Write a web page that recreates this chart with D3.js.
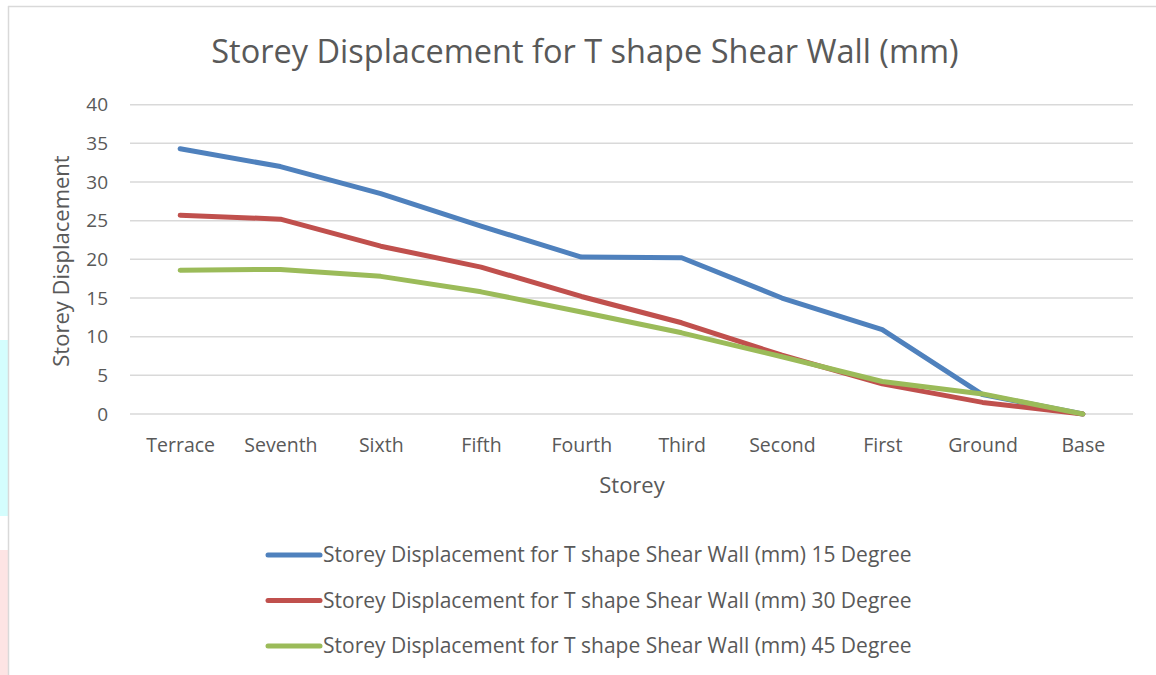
<!DOCTYPE html>
<html>
<head>
<meta charset="utf-8">
<script src="https://cdn.jsdelivr.net/npm/d3@7"></script>
<style>
  body { margin: 0; background: #fff; }
  text { font-family: "Open Sans", "Noto Sans", sans-serif; fill: #595959; }
</style>
</head>
<body>
<svg id="chart" width="1156" height="675"></svg>
<script>
// data
var storeys = ["Terrace", "Seventh", "Sixth", "Fifth", "Fourth", "Third", "Second", "First", "Ground", "Base"];
var deg15 = [34.3, 32.0, 28.5, 24.3, 20.3, 20.2, 15.0, 10.9, 2.5, 0];
var deg30 = [25.7, 25.2, 21.7, 19.0, 15.2, 11.8, 7.6, 3.9, 1.5, 0];
var deg45 = [18.6, 18.7, 17.8, 15.8, 13.2, 10.5, 7.4, 4.2, 2.6, 0];
var yTicks = [0, 5, 10, 15, 20, 25, 30, 35, 40];
var seriesNames = [
  "Storey Displacement for T shape Shear Wall (mm) 15 Degree",
  "Storey Displacement for T shape Shear Wall (mm) 30 Degree",
  "Storey Displacement for T shape Shear Wall (mm) 45 Degree"
];
var colors = ["#4f81bd", "#c0504d", "#9bbb59"];

var series = [deg15, deg30, deg45];

var svg = d3.select("#chart");

// page edge decorations
svg.append("rect").attr("x", 0).attr("y", 340).attr("width", 8).attr("height", 176).attr("fill", "#d4fdfd");
svg.append("rect").attr("x", 0).attr("y", 550).attr("width", 8).attr("height", 125).attr("fill", "#fde4e4");
svg.append("line").attr("x1", 8).attr("x2", 1156).attr("y1", 6.5).attr("y2", 6.5).attr("stroke", "#d9d9d9").attr("stroke-width", 1.5);
svg.append("line").attr("x1", 8.5).attr("x2", 8.5).attr("y1", 6).attr("y2", 675).attr("stroke", "#d9d9d9").attr("stroke-width", 1.5);

var plotLeft = 130, plotRight = 1133, plotTop = 104.7, plotBottom = 414;

var x = d3.scalePoint().domain(storeys).range([plotLeft, plotRight]).padding(0.5);
var y = d3.scaleLinear().domain([0, 40]).range([plotBottom, plotTop]);

// gridlines
svg.append("g")
  .selectAll("line")
  .data(yTicks)
  .enter().append("line")
  .attr("x1", plotLeft).attr("x2", plotRight)
  .attr("y1", function (d) { return y(d); })
  .attr("y2", function (d) { return y(d); })
  .attr("stroke", "#d9d9d9")
  .attr("stroke-width", 1.5);

// y axis
var yAxis = svg.append("g")
  .attr("transform", "translate(" + (plotLeft - 14) + ",0)")
  .call(d3.axisLeft(y).tickValues(yTicks).tickSize(0).tickPadding(8));
yAxis.select(".domain").remove();
yAxis.selectAll("text").style("font-size", "19px").attr("fill", "#595959")
  .style("font-family", "'Open Sans', sans-serif");

// x axis
var xAxis = svg.append("g")
  .attr("transform", "translate(0," + plotBottom + ")")
  .call(d3.axisBottom(x).tickSize(0).tickPadding(24));
xAxis.select(".domain").remove();
xAxis.selectAll("text").style("font-size", "19.5px").attr("fill", "#595959")
  .style("font-family", "'Open Sans', sans-serif");

// lines
var line = d3.line()
  .x(function (d, i) { return x(storeys[i]); })
  .y(function (d) { return y(d); });

svg.append("g")
  .selectAll("path")
  .data(series)
  .enter().append("path")
  .attr("d", line)
  .attr("fill", "none")
  .attr("stroke", function (d, i) { return colors[i]; })
  .attr("stroke-width", 5)
  .attr("stroke-linejoin", "round")
  .attr("stroke-linecap", "round");

// titles
svg.append("text")
  .attr("x", 585).attr("y", 63)
  .attr("text-anchor", "middle")
  .style("font-size", "32.5px")
  .text("Storey Displacement for T shape Shear Wall (mm)");

svg.append("text")
  .attr("x", 632).attr("y", 493)
  .attr("text-anchor", "middle")
  .style("font-size", "22px")
  .text("Storey");

svg.append("text")
  .attr("transform", "translate(69,261) rotate(-90)")
  .attr("text-anchor", "middle")
  .style("font-size", "22px")
  .text("Storey Displacement");

// legend
var legend = svg.append("g")
  .selectAll("g")
  .data(seriesNames)
  .enter().append("g")
  .attr("transform", function (d, i) { return "translate(268," + (555 + i * 45.5) + ")"; });

legend.append("line")
  .attr("x1", 0).attr("x2", 52)
  .attr("stroke", function (d, i) { return colors[i]; })
  .attr("stroke-width", 5)
  .attr("stroke-linecap", "round");

legend.append("text")
  .attr("x", 55)
  .attr("dy", "0.35em")
  .style("font-size", "21px")
  .text(function (d) { return d; });
</script>
</body>
</html>
